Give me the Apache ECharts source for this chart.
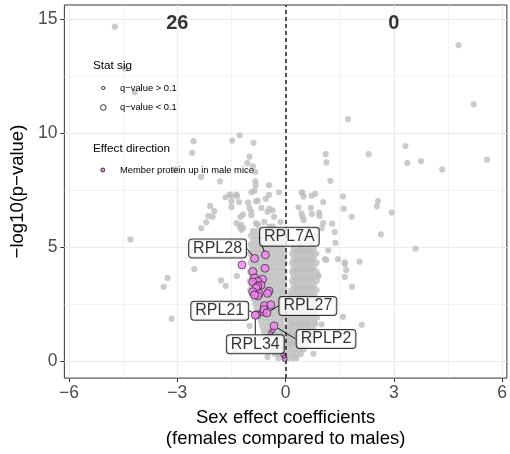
<!DOCTYPE html>
<html>
<head>
<meta charset="utf-8">
<script src="https://cdn.jsdelivr.net/npm/echarts@6/dist/echarts.min.js"></script>
<style>
  html, body { margin: 0; padding: 0; background: #fff; }
  #volcano { width: 510px; height: 454px; }
</style>
</head>
<body>
<div id="volcano"></div>
<script>
// axis ticks and gridlines
const xTicks = [-6, -3, 0, 3, 6];
const yTicks = [0, 5, 10, 15];
const xGrid = [-6, -4.5, -3, -1.5, 0, 1.5, 3, 4.5, 6];
const yGrid = [0, 2.5, 5, 7.5, 10, 12.5, 15];

// number of significant proteins on each side
const countX = [-3, 3];
const countValues = [26, 0];
const countY = 14.8;

// scattered grey proteins [coef, -log10 p]
const grayPoints = [
  [-4.73, 14.67], [-4.46, 12.83], [-4.18, 11.79],
  [-2.55, 9.64], [-1.48, 9.67], [-1.27, 9.9], [-0.89, 9.57], [-2.59, 9.13], [-1.0, 8.96],
  [-0.91, 8.54], [-3.07, 8.4], [-1.06, 8.68], [-0.84, 8.3], [-2.34, 8.07], [-1.82, 7.88],
  [-0.84, 7.88], [-0.83, 7.71], [-0.46, 7.71], [-0.95, 7.4], [-1.55, 7.3], [-1.36, 7.3],
  [-0.46, 7.28], [0.45, 7.4], [-1.66, 7.18], [-1.5, 7.25], [-1.35, 7.22], [-1.5, 7.0],
  [-1.29, 6.97], [-1.04, 6.94], [-0.82, 7.0], [-2.09, 6.8], [-1.5, 6.75], [-1.0, 6.71],
  [-0.67, 6.71], [-1.98, 6.57], [-0.5, 6.54], [-0.36, 6.61], [-2.14, 6.36], [-2.02, 6.32],
  [-1.18, 6.42], [-1.25, 6.32], [-0.95, 6.39], [-2.2, 6.08], [-1.36, 6.04], [-1.27, 5.89],
  [-1.23, 5.75], [-2.34, 5.82], [-0.77, 5.97], [-0.46, 5.89], [-1.23, 5.97], [-1.18, 5.82],
  [-0.86, 7.47], [-0.77, 7.03], [-0.95, 6.54], [-0.55, 7.11], [-0.45, 6.68], [-0.32, 6.32],
  [-0.18, 7.4], [-0.14, 6.1], [-0.59, 6.1], [-0.82, 6.04], [-0.36, 5.89],
  [4.79, 13.86], [5.21, 11.26], [1.73, 10.61], [3.32, 9.43], [1.11, 9.07], [1.13, 8.71],
  [2.3, 9.07], [3.37, 8.68], [3.75, 8.77], [4.34, 8.4], [5.58, 8.83], [1.24, 7.9],
  [0.46, 7.37], [0.5, 7.21], [0.72, 7.25], [0.82, 7.33], [1.59, 7.22], [1.04, 6.97],
  [0.36, 6.74], [0.7, 6.71], [2.56, 7.01], [2.53, 6.78], [0.44, 6.47], [0.47, 6.32],
  [0.5, 6.18], [0.73, 6.44], [0.93, 6.51], [0.94, 6.36], [1.83, 6.32], [1.61, 6.68],
  [2.94, 6.51], [1.04, 6.04], [1.29, 6.02], [1.0, 5.82], [1.36, 5.65], [2.64, 5.55],
  [1.38, 5.18], [3.6, 4.93], [2.05, 4.35], [1.64, 4.32], [1.45, 4.46], [1.13, 4.42],
  [1.09, 4.46], [1.18, 4.85], [1.64, 4.25], [1.68, 3.99], [1.64, 3.68], [0.91, 3.75],
  [1.84, 3.25], [1.59, 1.93], [1.0, 1.6], [0.82, 1.6], [2.11, 1.58], [0.77, 0.31],
  [0.36, 5.6], [0.5, 5.35], [0.62, 5.75], [0.4, 5.1], [0.7, 5.15], [0.82, 5.5],
  [-4.3, 5.33], [-3.27, 3.64], [-3.38, 3.25], [-3.16, 1.85], [-2.53, 4.03], [-1.79, 3.53],
  [-1.66, 3.29], [-1.35, 3.72], [-1.0, 1.53], [-0.5, 0.17], [-2.6, 4.78]
];

// dense grey cloud near zero, one row per -log10 p level: [y, [coef, ...]]
const denseLeftRows = [
  [5.7, [-0.9, -0.76, -0.62, -0.48, -0.34, -0.2, -0.07]],
  [5.5, [-0.96, -0.83, -0.69, -0.55, -0.41, -0.27, -0.13]],
  [5.3, [-0.9, -0.76, -0.62, -0.48, -0.34, -0.2, -0.06]],
  [5.1, [-0.97, -0.83, -0.69, -0.55, -0.41, -0.27, -0.13]],
  [4.9, [-0.92, -0.78, -0.64, -0.5, -0.36, -0.22, -0.08]],
  [4.7, [-0.98, -0.85, -0.71, -0.57, -0.43, -0.29, -0.15, -0.03]],
  [4.5, [-0.92, -0.78, -0.64, -0.5, -0.36, -0.22, -0.08]],
  [4.3, [-0.97, -0.84, -0.7, -0.56, -0.42, -0.28, -0.14, -0.03]],
  [4.1, [-0.92, -0.78, -0.64, -0.5, -0.36, -0.22, -0.08]],
  [3.9, [-0.98, -0.85, -0.71, -0.57, -0.43, -0.29, -0.15, -0.03]],
  [3.7, [-0.93, -0.79, -0.65, -0.51, -0.37, -0.23, -0.09]],
  [3.5, [-0.99, -0.86, -0.72, -0.58, -0.44, -0.3, -0.16, -0.04]],
  [3.3, [-0.94, -0.8, -0.66, -0.52, -0.38, -0.24, -0.1]],
  [3.1, [-0.98, -0.85, -0.71, -0.57, -0.43, -0.29, -0.15, -0.03]],
  [2.9, [-0.92, -0.78, -0.64, -0.5, -0.36, -0.22, -0.08]],
  [2.7, [-0.88, -0.74, -0.6, -0.46, -0.32, -0.18, -0.05]],
  [2.5, [-0.84, -0.7, -0.56, -0.42, -0.28, -0.14, -0.02]],
  [2.3, [-0.8, -0.66, -0.52, -0.38, -0.24, -0.1]],
  [2.1, [-0.76, -0.62, -0.48, -0.34, -0.2, -0.06]],
  [1.9, [-0.72, -0.58, -0.44, -0.3, -0.16, -0.03]],
  [1.7, [-0.68, -0.54, -0.4, -0.26, -0.12]],
  [1.5, [-0.64, -0.5, -0.36, -0.22, -0.08]],
  [1.3, [-0.6, -0.46, -0.32, -0.18, -0.05]],
  [1.1, [-0.55, -0.41, -0.27, -0.13, -0.02]],
  [0.9, [-0.5, -0.36, -0.22, -0.08]],
  [0.7, [-0.44, -0.3, -0.16, -0.03]],
  [0.5, [-0.38, -0.24, -0.1]],
  [0.3, [-0.3, -0.16, -0.04]],
  [0.12, [-0.2, -0.07]]
];
const denseRightRows = [
  [4.9, [0.22, 0.36, 0.5, 0.64, 0.78]],
  [4.8, [0.29, 0.43, 0.57, 0.71]],
  [4.7, [0.18, 0.3, 0.44, 0.58, 0.72, 0.85]],
  [4.5, [0.22, 0.36, 0.5, 0.64, 0.78]],
  [4.4, [0.29, 0.43, 0.57, 0.71]],
  [4.3, [0.18, 0.3, 0.44, 0.58, 0.72, 0.86]],
  [4.1, [0.22, 0.36, 0.5, 0.64, 0.78]],
  [4.0, [0.29, 0.43, 0.57, 0.71]],
  [3.9, [0.18, 0.3, 0.44, 0.58, 0.72, 0.86]],
  [3.7, [0.22, 0.36, 0.5, 0.64, 0.78, 0.9]],
  [3.6, [0.29, 0.43, 0.57, 0.71]],
  [3.5, [0.18, 0.3, 0.44, 0.58, 0.72, 0.86]],
  [3.3, [0.22, 0.36, 0.5, 0.64, 0.78]],
  [3.2, [0.29, 0.43, 0.57, 0.71]],
  [3.1, [0.16, 0.3, 0.44, 0.58, 0.72, 0.86]],
  [2.9, [0.1, 0.24, 0.38, 0.52, 0.66, 0.8]],
  [2.8, [0.17, 0.31, 0.45, 0.59, 0.73]],
  [2.7, [0.04, 0.17, 0.31, 0.45, 0.59, 0.73, 0.87]],
  [2.5, [0.1, 0.24, 0.38, 0.52, 0.66, 0.8]],
  [2.4, [0.17, 0.31, 0.45, 0.59, 0.73]],
  [2.3, [0.04, 0.17, 0.31, 0.45, 0.59, 0.73, 0.87]],
  [2.1, [0.1, 0.24, 0.38, 0.52, 0.66, 0.8]],
  [2.0, [0.17, 0.31, 0.45, 0.59, 0.73]],
  [1.9, [0.04, 0.17, 0.31, 0.45, 0.59, 0.73, 0.87]],
  [1.7, [0.1, 0.24, 0.38, 0.52, 0.66, 0.8]],
  [1.6, [0.17, 0.31, 0.45, 0.59]],
  [1.5, [0.04, 0.17, 0.31, 0.45, 0.59, 0.73]],
  [1.3, [0.1, 0.24, 0.38, 0.52, 0.66, 0.8]],
  [1.2, [0.17, 0.31, 0.45, 0.59]],
  [1.1, [0.04, 0.17, 0.31, 0.45, 0.59, 0.72]],
  [0.9, [0.1, 0.24, 0.38, 0.52, 0.65]],
  [0.8, [0.17, 0.31, 0.45]],
  [0.7, [0.04, 0.17, 0.31, 0.45, 0.58]],
  [0.5, [0.1, 0.24, 0.38, 0.5]],
  [0.3, [0.04, 0.17, 0.3, 0.42]],
  [0.12, [0.08, 0.2, 0.3]]
];

// ribosomal proteins up in male mice
const pinkSig = [
  [-1.21, 4.21], [-0.57, 4.06], [-0.91, 3.92], [-0.86, 3.64], [-0.64, 3.58], [-0.77, 3.49],
  [-0.91, 3.46], [-0.68, 3.32], [-0.77, 3.27], [-0.82, 3.2], [-0.91, 3.03], [-0.73, 2.96],
  [-0.77, 2.85], [-0.86, 2.89], [-0.46, 3.06], [-0.5, 2.96], [-0.59, 2.42], [-0.41, 2.46],
  [-0.62, 2.15], [-0.6, 2.25]
];
const pinkNonsig = [[-0.41, 1.24], [-0.36, 1.33], [-0.07, 0.27], [-0.03, 0.16], [-0.02, 0.06]];
const labelGenes = ['RPL28', 'RPL7A', 'RPL21', 'RPL27', 'RPLP2', 'RPL34'];
const labelPoints = [[-0.86, 4.49], [-0.56, 4.65], [-0.8, 2.02], [-0.52, 2.1], [-0.32, 1.53], [-0.84, 2.0]];
// where each label box sits relative to its point, px
const labelShift = [[-37, -10], [24, -18], [-37, -4], [41, -7], [52, 13], [0, 29]];

const FONT = "'Liberation Sans', Arial, Helvetica, sans-serif";

const grayAll = grayPoints.slice();
denseLeftRows.concat(denseRightRows).forEach(row => {
  row[1].forEach(x => grayAll.push([x, row[0]]));
});

function minusFmt(v) {
  return v < 0 ? '\u2212' + Math.abs(v) : String(v);
}

const gridLines = [];
xGrid.forEach(v => gridLines.push({ xAxis: v, lineStyle: { color: '#EBEBEB', width: v % 3 === 0 ? 1.1 : 0.6, type: 'solid' } }));
yGrid.forEach(v => gridLines.push({ yAxis: v, lineStyle: { color: '#EBEBEB', width: v % 5 === 0 ? 1.1 : 0.6, type: 'solid' } }));

var chartDom = document.getElementById('volcano');
var myChart = echarts.init(chartDom);
var option;
option = {
  animation: false,
  textStyle: { fontFamily: FONT },
  grid: {
    left: 62, top: 5, width: 449.6, height: 381.7,
    show: true, borderColor: '#333', borderWidth: 1, backgroundColor: '#fff'
  },
  xAxis: {
    type: 'value', min: -6.13, max: 6.13,
    splitLine: { show: false },
    axisLine: { show: false, onZero: false },
    axisTick: { show: true, customValues: xTicks, length: 4, lineStyle: { color: '#333', width: 1 } },
    axisLabel: { customValues: xTicks, formatter: minusFmt, color: '#4D4D4D', fontSize: 17.5, margin: 6, fontFamily: FONT },
    name: 'Sex effect coefficients\n(females compared to males)',
    nameLocation: 'middle', nameGap: 23,
    nameTextStyle: { fontSize: 18.5, lineHeight: 21, color: '#000', fontFamily: FONT }
  },
  yAxis: {
    type: 'value', min: -0.76, max: 15.62,
    splitLine: { show: false },
    axisLine: { show: false, onZero: false },
    axisTick: { show: true, customValues: yTicks, length: 4, lineStyle: { color: '#333', width: 1 } },
    axisLabel: { customValues: yTicks, formatter: minusFmt, color: '#4D4D4D', fontSize: 17.5, margin: 7, fontFamily: FONT },
    name: '\u2212log10(p\u2212value)',
    nameLocation: 'middle', nameRotate: 90, nameGap: 34,
    nameTextStyle: { fontSize: 18.5, color: '#000', fontFamily: FONT }
  },
  series: [
    {
      type: 'scatter', name: 'grid', data: [], silent: true,
      markLine: { z: 1, silent: true, symbol: ['none', 'none'], label: { show: false }, data: gridLines }
    },
    {
      type: 'scatter', name: 'other proteins', z: 2, silent: true,
      symbolSize: 6.2, itemStyle: { color: '#BEBEBE' }, data: grayAll
    },
    {
      type: 'scatter', name: 'zero', data: [], silent: true,
      markLine: {
        z: 3, silent: true, symbol: ['none', 'none'], label: { show: false },
        lineStyle: { type: [4, 3], color: '#222', width: 1.5 },
        data: [{ xAxis: 0 }]
      }
    },
    {
      type: 'scatter', name: 'q > 0.1', z: 4, silent: true,
      symbolSize: 4.5, itemStyle: { color: '#EE82EE', borderColor: '#000', borderWidth: 0.7 },
      data: pinkNonsig
    },
    {
      type: 'scatter', name: 'q < 0.1', z: 4, silent: true,
      symbolSize: 8, itemStyle: { color: '#EE82EE', borderColor: '#000', borderWidth: 0.7 },
      data: pinkSig
    },
    {
      type: 'scatter', name: 'labelled', z: 5, silent: true,
      symbolSize: 8, itemStyle: { color: '#EE82EE', borderColor: '#000', borderWidth: 0.7 },
      data: labelPoints.map((p, i) => ({ value: p, name: labelGenes[i] })),
      label: {
        show: true, position: 'inside', formatter: '{b}',
        fontSize: 16, lineHeight: 16, color: '#000', fontFamily: FONT,
        backgroundColor: '#fff', borderColor: '#000', borderWidth: 1, borderRadius: 3,
        padding: [1, 4, 1, 4]
      },
      labelLayout: function (params) {
        const s = labelShift[params.dataIndex];
        return { dx: s[0], dy: s[1] };
      },
      labelLine: { show: true, lineStyle: { color: '#000', width: 0.9 } }
    },
    {
      type: 'scatter', name: 'counts', z: 5, silent: true, symbolSize: 0,
      data: countX.map((x, i) => [x, countY, countValues[i]]),
      label: {
        show: true, position: 'inside', formatter: p => String(p.value[2]),
        fontSize: 20, fontWeight: 'bold', color: '#000', fontFamily: FONT
      }
    }
  ],
  graphic: [
    { type: 'text', x: 93, y: 66, z: 100, style: { text: 'Stat sig', fontSize: 11.7, fontFamily: FONT, fill: '#000', verticalAlign: 'middle' } },
    { type: 'circle', z: 100, shape: { cx: 103.3, cy: 88, r: 1.6 }, style: { fill: '#fff', stroke: '#000', lineWidth: 0.8 } },
    { type: 'text', x: 120, y: 88, z: 100, style: { text: 'q\u2212value > 0.1', fontSize: 9.4, fontFamily: FONT, fill: '#000', verticalAlign: 'middle' } },
    { type: 'circle', z: 100, shape: { cx: 103.3, cy: 107.5, r: 2.8 }, style: { fill: '#fff', stroke: '#000', lineWidth: 0.8 } },
    { type: 'text', x: 120, y: 107.5, z: 100, style: { text: 'q\u2212value < 0.1', fontSize: 9.4, fontFamily: FONT, fill: '#000', verticalAlign: 'middle' } },
    { type: 'text', x: 93, y: 149, z: 100, style: { text: 'Effect direction', fontSize: 11.7, fontFamily: FONT, fill: '#000', verticalAlign: 'middle' } },
    { type: 'circle', z: 100, shape: { cx: 102.8, cy: 170, r: 2 }, style: { fill: '#EE82EE', stroke: '#000', lineWidth: 0.7 } },
    { type: 'text', x: 120, y: 170, z: 100, style: { text: 'Member protein up in male mice', fontSize: 9.4, fontFamily: FONT, fill: '#000', verticalAlign: 'middle' } }
  ]
};
option && myChart.setOption(option);
</script>
</body>
</html>
